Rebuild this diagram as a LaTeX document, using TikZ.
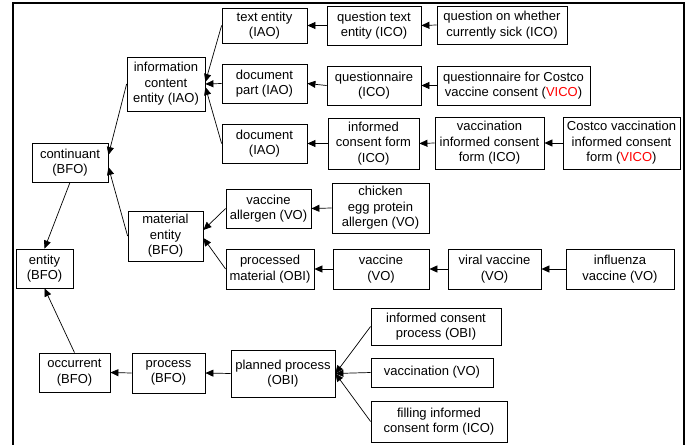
\documentclass[tikz,border=0pt]{standalone}
\usepackage{fontspec}
\setmainfont{Liberation Sans}
\usetikzlibrary{arrows.meta}
\definecolor{vicored}{RGB}{255,0,0}
\newcommand{\vico}{\textcolor{vicored}{VICO}}
\tikzset{
  box/.style={draw=black, line width=0.8pt, fill=white, align=center, inner sep=1pt,
    font=\fontsize{13}{15.5}\selectfont},
  isa/.style={draw=black, line width=0.7pt, -{Triangle[length=8pt,width=7pt]}},
  frame/.style={draw=black, line width=2pt}
}
\begin{document}
\begin{tikzpicture}[x=1pt,y=-1pt]
\useasboundingbox (0,0) rectangle (690,444);
\draw[frame] (13,446) -- (13,2.8) -- (683.8,2.8) -- (683.8,446);
% nodes
\node[box, minimum width=78, minimum height=54] (ice) at (166,84) {information\\content\\entity (IAO)};
\node[box, minimum width=76, minimum height=39] (cont) at (70,162.5) {continuant\\(BFO)};
\node[box, minimum width=85, minimum height=35] (textent) at (264.5,25.5) {text entity\\(IAO)};
\node[box, minimum width=94, minimum height=39] (qtext) at (374,25.5) {question text\\entity (ICO)};
\node[box, minimum width=130, minimum height=38] (qsick) at (502,25) {question on whether\\currently sick (ICO)};
\node[box, minimum width=85, minimum height=39] (docpart) at (264.5,83.5) {document\\part (IAO)};
\node[box, minimum width=94, minimum height=39] (quest) at (374,85.5) {questionnaire\\(ICO)};
\node[box, minimum width=153, minimum height=39] (questc) at (513.5,85.5) {questionnaire for Costco\\vaccine consent (\vico)};
\node[box, minimum width=85, minimum height=39] (doc) at (264.5,143.5) {document\\(IAO)};
\node[box, minimum width=91, minimum height=51] (icf) at (373.5,143.5) {informed\\consent form\\(ICO)};
\node[box, minimum width=109, minimum height=52] (vicf) at (489.5,143) {vaccination\\informed consent\\form (ICO)};
\node[box, minimum width=117, minimum height=52] (cvicf) at (621.5,143) {Costco vaccination\\informed consent\\form (\vico)};
\node[box, minimum width=75, minimum height=50] (mat) at (165.5,236) {material\\entity\\(BFO)};
\node[box, minimum width=57, minimum height=39] (entity) at (44.5,268.5) {entity\\(BFO)};
\node[box, minimum width=71, minimum height=39] (occ) at (74.5,372.5) {occurrent\\(BFO)};
\node[box, minimum width=73, minimum height=40] (proc) at (168.5,373) {process\\(BFO)};
\node[box, minimum width=85, minimum height=39] (vall) at (268.5,208.5) {vaccine\\allergen (VO)};
\node[box, minimum width=97, minimum height=50] (chick) at (380.5,208) {chicken\\egg protein\\allergen (VO)};
\node[box, minimum width=88, minimum height=40] (procmat) at (270,269) {processed\\material (OBI)};
\node[box, minimum width=96, minimum height=40] (vaccine) at (381,269) {vaccine\\(VO)};
\node[box, minimum width=93, minimum height=40] (viral) at (494.5,269) {viral vaccine\\(VO)};
\node[box, minimum width=108, minimum height=40] (flu) at (620,269) {influenza\\vaccine (VO)};
\node[box, minimum width=104, minimum height=47] (planned) at (283,373.5) {planned process\\(OBI)};
\node[box, minimum width=130, minimum height=37] (icp) at (436,326.5) {informed consent\\process (OBI)};
\node[box, minimum width=122, minimum height=29] (vacc) at (432,372.5) {vaccination (VO)};
\node[box, minimum width=136, minimum height=41] (filling) at (439,421.5) {filling informed\\consent form (ICO)};
% connectors
\draw[isa] (textent.west) -- ([yshift=2pt]ice.east);
\draw[isa] (docpart.west) -- (ice.east);
\draw[isa] (doc.west) -- ([yshift=-3pt]ice.east);
\draw[isa] (ice.west) -- ([yshift=7.5pt]cont.east);
\draw[isa] (mat.west) -- ([yshift=-4.5pt]cont.east);
\draw[isa] (cont.south) -- (entity.north);
\draw[isa] (occ.north) -- (entity.south);
\draw[isa] (proc.west) -- (occ.east);
\draw[isa] (planned.west) -- (proc.east);
\draw[isa] (icp.west) -- (planned.east);
\draw[isa] (vacc.west) -- (planned.east);
\draw[isa] (filling.west) -- (planned.east);
\draw[isa] (vall.west) -- ([yshift=6pt]mat.east);
\draw[isa] (procmat.west) -- ([yshift=-2pt]mat.east);
\draw[isa] (chick.west) -- (vall.east);
\draw[isa] (vaccine.west) -- (procmat.east);
\draw[isa] (viral.west) -- (vaccine.east);
\draw[isa] (flu.west) -- (viral.east);
\draw[isa] (qtext.west) -- (textent.east);
\draw[isa] (qsick.west) -- (qtext.east);
\draw[isa] (quest.west) -- (docpart.east);
\draw[isa] (questc.west) -- (quest.east);
\draw[isa] (icf.west) -- (doc.east);
\draw[isa] (vicf.west) -- (icf.east);
\draw[isa] (cvicf.west) -- (vicf.east);
\end{tikzpicture}
\end{document}
